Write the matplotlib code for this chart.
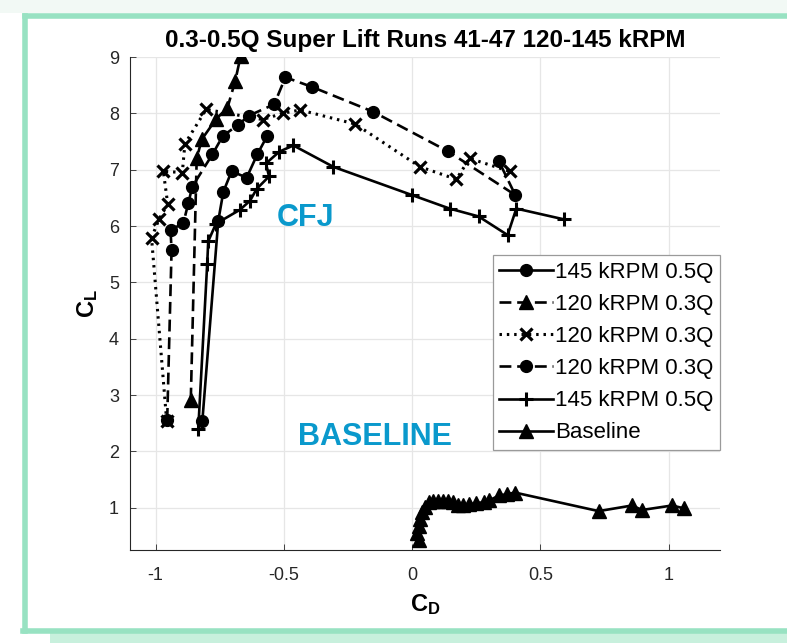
import matplotlib
matplotlib.use("Agg")
import matplotlib.pyplot as plt
from matplotlib.lines import Line2D
from matplotlib.patches import Rectangle

plt.rcParams["font.family"] = ["Liberation Sans", "DejaVu Sans"]
plt.rcParams["mathtext.fontset"] = "custom"
plt.rcParams["mathtext.rm"] = "Liberation Sans"
plt.rcParams["mathtext.bf"] = "Liberation Sans:bold"

# --- данные (C_D, C_L) ---
cd_145_05_o = [-0.818, -0.756, -0.736, -0.704, -0.645, -0.604, -0.565]
cl_145_05_o = [2.54, 6.09, 6.61, 6.97, 6.86, 7.27, 7.60]

cd_120_03_tri = [-0.863, -0.840, -0.820, -0.764, -0.720, -0.690, -0.669]
cl_120_03_tri = [2.92, 7.20, 7.54, 7.90, 8.10, 8.57, 9.01]

cd_120_03_x = [-0.957, -1.016, -0.987, -0.953, -0.970, -0.896, -0.886, -0.803,
               -0.583, -0.505, -0.437, -0.222, 0.031, 0.172, 0.224, 0.380]
cl_120_03_x = [2.54, 5.79, 6.12, 6.39, 6.97, 6.95, 7.46, 8.07,
               7.89, 8.00, 8.06, 7.81, 7.05, 6.83, 7.20, 6.97]

cd_120_03_o = [-0.955, -0.938, -0.942, -0.892, -0.873, -0.857, -0.779, -0.738,
               -0.680, -0.636, -0.538, -0.494, -0.391, -0.153, 0.138, 0.402, 0.338]
cl_120_03_o = [2.56, 5.57, 5.93, 6.05, 6.40, 6.70, 7.27, 7.60,
               7.79, 7.96, 8.16, 8.64, 8.47, 8.03, 7.33, 6.55, 7.15]

cd_145_05_p = [-0.834, -0.799, -0.795, -0.765, -0.671, -0.632, -0.606, -0.558,
               -0.570, -0.518, -0.463, -0.307, -0.001, 0.146, 0.259, 0.372, 0.406, 0.590]
cl_145_05_p = [2.39, 5.33, 5.73, 6.04, 6.29, 6.45, 6.66, 6.88,
               7.11, 7.32, 7.43, 7.05, 6.55, 6.31, 6.17, 5.84, 6.31, 6.12]

cd_base = [0.025, 0.020, 0.025, 0.030, 0.040, 0.050, 0.065, 0.080, 0.100, 0.120,
           0.140, 0.160, 0.180, 0.200, 0.220, 0.250, 0.280, 0.300, 0.340, 0.370,
           0.400, 0.727, 0.857, 0.896, 1.013, 1.059]
cl_base = [0.42, 0.55, 0.68, 0.80, 0.92, 1.02, 1.10, 1.12, 1.12, 1.12,
           1.12, 1.11, 1.05, 1.05, 1.06, 1.08, 1.10, 1.13, 1.22, 1.24,
           1.27, 0.94, 1.04, 0.96, 1.04, 0.99]

labels = ["145 kRPM 0.5Q", "120 kRPM 0.3Q", "120 kRPM 0.3Q",
          "120 kRPM 0.3Q", "145 kRPM 0.5Q", "Baseline"]

W, H = 787, 643
fig = plt.figure(figsize=(W / 100, H / 100), dpi=100)

# рамка скриншота
green = "#98e2c2"
fig.add_artist(Rectangle((0, 1 - 13 / H), 1, 13 / H, transform=fig.transFigure,
                         facecolor="#f2f9f5", edgecolor="none", zorder=0))
fig.add_artist(Rectangle((50 / W, 0), 1, 10 / H, transform=fig.transFigure,
                         facecolor="#c8f0dd", edgecolor="none", zorder=0))
fig.add_artist(Line2D([25 / W, 25 / W], [1 - 16 / H, 1 - 631 / H], transform=fig.transFigure,
                      color=green, linewidth=4))
fig.add_artist(Line2D([25 / W, 1], [1 - 16 / H, 1 - 16 / H], transform=fig.transFigure,
                      color=green, linewidth=4))
fig.add_artist(Line2D([23 / W, 1], [1 - 631 / H, 1 - 631 / H], transform=fig.transFigure,
                      color=green, linewidth=4))

ax = fig.add_axes([130 / W, 1 - 550 / H, 590 / W, 493 / H])

lw = 1.9
ms = 8.5
ax.plot(cd_145_05_o, cl_145_05_o, "-", color="k", lw=lw, marker="o", ms=ms, label=labels[0])
ax.plot(cd_120_03_tri, cl_120_03_tri, color="k", lw=lw, ls=(0, (4.5, 2.2)), marker="^", ms=ms + 1,
        label=labels[1])
ax.plot(cd_120_03_x, cl_120_03_x, color="k", lw=lw + 0.3, ls=(0, (0.8, 1.6)), marker="x", ms=ms,
        mew=2.3, label=labels[2])
ax.plot(cd_120_03_o, cl_120_03_o, color="k", lw=lw, ls=(0, (4.5, 2.2)), marker="o", ms=ms,
        label=labels[3])
ax.plot(cd_145_05_p, cl_145_05_p, "-", color="k", lw=lw, marker="+", ms=ms + 2, mew=2.2,
        label=labels[4])
ax.plot(cd_base, cl_base, "-", color="k", lw=lw, marker="^", ms=ms + 1, label=labels[5])

ax.set_xlim(-1.1, 1.2)
ax.set_ylim(0.25, 9)
ax.set_xticks([-1, -0.5, 0, 0.5, 1])
ax.set_xticklabels(["-1", "-0.5", "0", "0.5", "1"])
ax.set_yticks(range(1, 10))
ax.grid(True, color="#e6e6e6", linewidth=0.9)
ax.set_axisbelow(True)
for side in ("top", "right"):
    ax.spines[side].set_visible(False)
for side in ("left", "bottom"):
    ax.spines[side].set_color("#262626")
    ax.spines[side].set_linewidth(0.8)
ax.tick_params(direction="in", length=4, width=0.6, colors="#262626", labelsize=13)
ax.tick_params(axis="x", pad=12)
ax.tick_params(axis="y", pad=8)

ax.set_title("0.3-0.5Q Super Lift Runs 41-47 120-145 kRPM", fontsize=17.5, fontweight="bold",
             pad=7)
ax.set_xlabel(r"$\mathbf{C_D}$", fontsize=17, labelpad=6)
ax.set_ylabel(r"$\mathbf{C_L}$", fontsize=17, labelpad=6)

blue = "#0a99cc"
ax.text(-0.417, 6.14, "CFJ", color=blue, fontsize=22, fontweight="bold",
        ha="center", va="center")
ax.text(-0.144, 2.26, "BASELINE", color=blue, fontsize=22, fontweight="bold",
        ha="center", va="center")

leg = ax.legend(loc="upper right", bbox_to_anchor=(1.0, 0.598), borderaxespad=0,
                fontsize=16, handlelength=2.4, handletextpad=0.1, labelspacing=0.5,
                numpoints=1, fancybox=False, framealpha=1, edgecolor="#9a9a9a",
                borderpad=0.3)
leg.get_frame().set_linewidth(0.9)

fig.savefig("out.png", dpi=100)
